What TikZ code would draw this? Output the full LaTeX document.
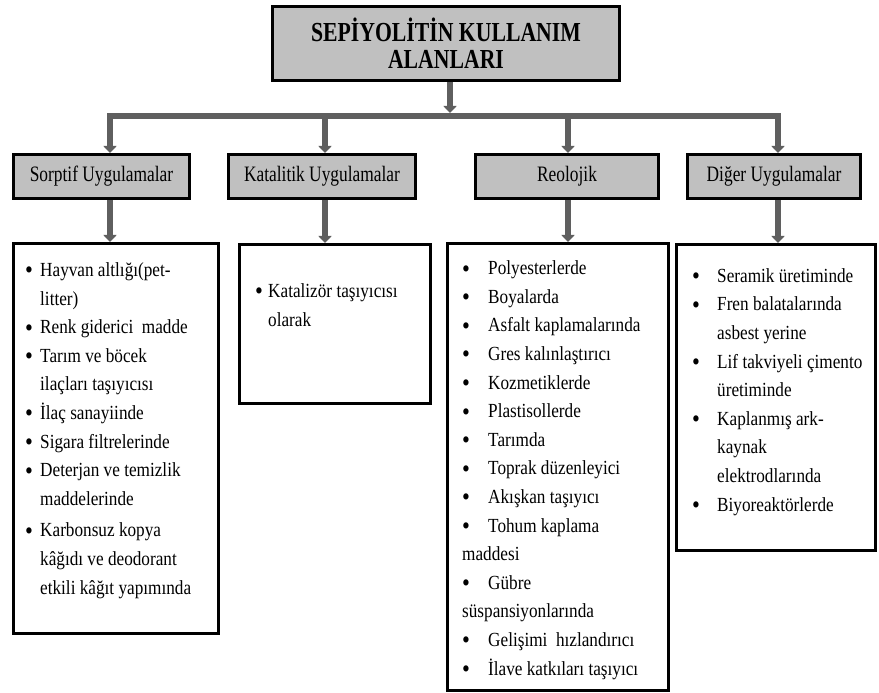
\documentclass[tikz,border=0pt]{standalone}
\usepackage{fontspec}
\setmainfont[FakeStretch=0.86]{Liberation Serif}
\newfontfamily\narrowfont[FakeStretch=0.79]{Liberation Serif}
\usetikzlibrary{arrows.meta}

\definecolor{boxgray}{HTML}{C0C0C0}
\definecolor{linkgray}{HTML}{5F5F5F}

\tikzset{
  headbox/.style={draw=black, line width=3bp, fill=boxgray, inner sep=0pt,
    minimum height=44bp, font=\narrowfont\fontsize{22bp}{24bp}\selectfont},
  listbox/.style={draw=black, line width=3bp, fill=white, inner sep=0pt},
  listtext/.style={anchor=base west, inner sep=0pt, align=left,
    font=\fontsize{20bp}{28.6bp}\selectfont},
  link/.style={draw=linkgray, line width=6bp},
  linkarrow/.style={link, -{Triangle[width=13bp,length=7bp]}}
}
\newcommand{\blt}[1]{\makebox[#1][l]{\raisebox{-2.4bp}{\scalebox{1.3}{\textbullet}}}}

\begin{document}
\begin{tikzpicture}[x=1bp,y=-1bp]
\useasboundingbox (0,0) rectangle (879,693);

% Title
\node[headbox, minimum width=347bp, minimum height=74bp, align=center,
  font=\narrowfont\fontsize{27.5bp}{27bp}\selectfont\bfseries] (title) at (446,43.5)
  {SEPİYOLİTİN KULLANIM\\ALANLARI};

% Column positions and the bar
\coordinate (bar) at (450,116);
\coordinate (c1) at (110,0);
\coordinate (c2) at (325,0);
\coordinate (c3) at (568,0);
\coordinate (c4) at (778,0);

% Headers
\node[headbox, minimum width=176bp] (sorp) at (101.5,176.5) {Sorptif Uygulamalar};
\node[headbox, minimum width=187bp] (kat) at (322,176.5) {Katalitik Uygulamalar};
\node[headbox, minimum width=183bp] (reo) at (567,176.5) {Reolojik};
\node[headbox, minimum width=173bp] (dig) at (774,176.5) {Diğer Uygulamalar};

% List boxes
\node[listbox, minimum width=205bp, minimum height=390bp] (sorpList) at (116,438.5) {};
\node[listbox, minimum width=191bp, minimum height=159bp] (katList) at (335,324) {};
\node[listbox, minimum width=221bp, minimum height=447bp] (reoList) at (558,467) {};
\node[listbox, minimum width=199bp, minimum height=306bp] (digList) at (776,397.5) {};

% Connectors
\draw[linkarrow] (title.south -| bar) -- ([yshift=3bp]bar);
\draw[link, line cap=rect] (bar -| c1) -- (bar -| c4);
\draw[linkarrow] (bar -| c1) -- (sorp.north -| c1);
\draw[linkarrow] (bar -| c2) -- (kat.north -| c2);
\draw[linkarrow] (bar -| c3) -- (reo.north -| c3);
\draw[linkarrow] (bar -| c4) -- (dig.north -| c4);
\draw[linkarrow] (sorp.south -| c1) -- (sorpList.north -| c1);
\draw[linkarrow] (kat.south -| c2) -- (katList.north -| c2);
\draw[linkarrow] (reo.south -| c3) -- (reoList.north -| c3);
\draw[linkarrow] (dig.south -| c4) -- (digList.north -| c4);

% List texts (placed by the baseline of their last line)
\node[listtext] (sorpText) at (25,594) {%
  \blt{15bp}Hayvan altlığı(pet-\\
  \hspace*{15bp}litter)\\
  \blt{15bp}Renk giderici\ \ madde\\
  \blt{15bp}Tarım ve böcek\\
  \hspace*{15bp}ilaçları taşıyıcısı\\
  \blt{15bp}İlaç sanayiinde\\
  \blt{15bp}Sigara filtrelerinde\\
  \blt{15bp}Deterjan ve temizlik\\
  \hspace*{15bp}maddelerinde\\[3bp]
  \blt{15bp}Karbonsuz kopya\\
  \hspace*{15bp}kâğıdı ve deodorant\\
  \hspace*{15bp}etkili kâğıt yapımında};

\node[listtext] (katText) at (255,326) {%
  \blt{13bp}Katalizör taşıyıcısı\\
  \hspace*{13bp}olarak};

\node[listtext] (reoText) at (462,675) {%
  \blt{26bp}Polyesterlerde\\
  \blt{26bp}Boyalarda\\
  \blt{26bp}Asfalt kaplamalarında\\
  \blt{26bp}Gres kalınlaştırıcı\\
  \blt{26bp}Kozmetiklerde\\
  \blt{26bp}Plastisollerde\\
  \blt{26bp}Tarımda\\
  \blt{26bp}Toprak düzenleyici\\
  \blt{26bp}Akışkan taşıyıcı\\
  \blt{26bp}Tohum kaplama\\
  maddesi\\
  \blt{26bp}Gübre\\
  süspansiyonlarında\\
  \blt{26bp}Gelişimi\ \ hızlandırıcı\\
  \blt{26bp}İlave katkıları taşıyıcı};

\node[listtext] (digText) at (692,511) {%
  \blt{25bp}Seramik üretiminde\\
  \blt{25bp}Fren balatalarında\\
  \hspace*{25bp}asbest yerine\\
  \blt{25bp}Lif takviyeli çimento\\
  \hspace*{25bp}üretiminde\\
  \blt{25bp}Kaplanmış ark-\\
  \hspace*{25bp}kaynak\\
  \hspace*{25bp}elektrodlarında\\
  \blt{25bp}Biyoreaktörlerde};
\end{tikzpicture}
\end{document}
